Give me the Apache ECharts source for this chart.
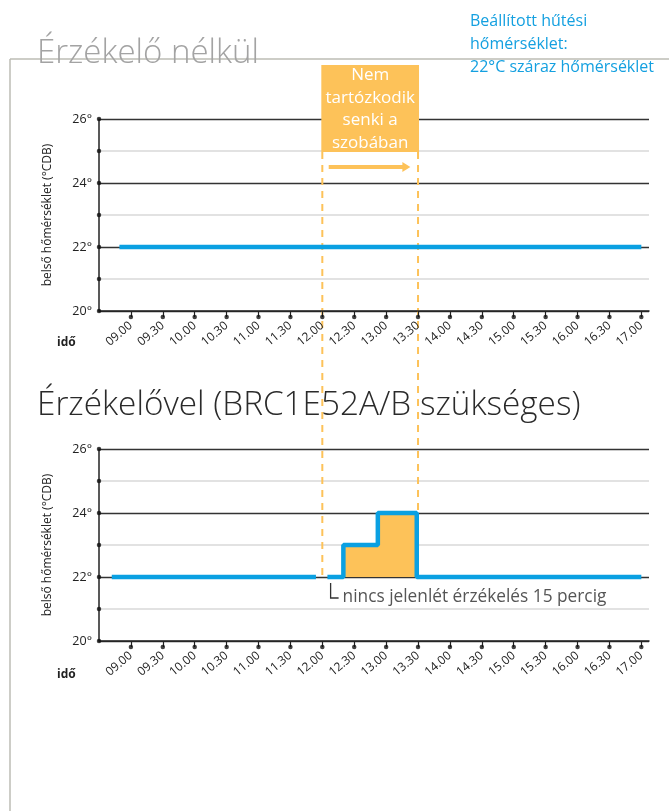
<!DOCTYPE html>
<html>
<head>
<meta charset="utf-8">
<script src="https://cdn.jsdelivr.net/npm/echarts@6/dist/echarts.min.js"></script>
<style>
  html, body { margin: 0; padding: 0; background: #fff; }
  #chart { width: 669px; height: 811px; }
</style>
</head>
<body>
<div id="chart"></div>
<script>
// idő tengely feliratai
const tickLabels = ['09.00', '09.30', '10.00', '10.30', '11.00', '11.30', '12.00', '12.30',
  '13.00', '13.30', '14.00', '14.30', '15.00', '15.30', '16.00', '16.30', '17.00'];
const yLevels = [20, 21, 22, 23, 24, 25, 26];
// érzékelő nélkül: végig 22°
const noSensorLine = [[8.82, 22], [17.0, 22]];
// érzékelővel
const sensorBefore = [[8.7, 22], [11.9, 22]];
const sensorStep = [[12.08, 22], [12.33, 23], [12.87, 24], [13.48, 22], [17.0, 22]];
const absenceSpan = [12.0, 13.5];
const noteAt = [12.13, 22];

const toHour = s => parseInt(s.slice(0, 2), 10) + parseInt(s.slice(3), 10) / 60;
const tickValues = tickLabels.map(toHour);
const labelMap = {};
tickLabels.forEach((l, i) => { labelMap[tickValues[i]] = l; });

const font = '"Open Sans", "Noto Sans", sans-serif';
const blue = '#0aa0e2';
const orange = '#fdc259';
const X_MIN = 8.5, X_MAX = 17.12;

const chart = echarts.init(document.getElementById('chart'));

function xAxisFor(gi) {
  return {
    type: 'value', gridIndex: gi, min: X_MIN, max: X_MAX,
    axisLine: { show: true, onZero: false, lineStyle: { color: '#222', width: 1.5 } },
    axisTick: { show: true, customValues: tickValues, length: 6, lineStyle: { color: '#222', width: 1.2 } },
    axisLabel: {
      customValues: tickValues, rotate: 40, margin: 13, fontSize: 12, color: '#222', fontFamily: font,
      formatter: v => labelMap[v] || ''
    },
    splitLine: { show: false }
  };
}
function yAxisFor(gi) {
  return {
    type: 'value', gridIndex: gi, min: 20, max: 26, interval: 2,
    name: 'belső hőmérséklet (°CDB)', nameLocation: 'middle', nameGap: 45, nameRotate: 90,
    nameTextStyle: { fontSize: 12, color: '#222', fontFamily: font },
    axisLine: { show: true, lineStyle: { color: '#222', width: 1.5 } },
    axisTick: { show: false },
    axisLabel: { fontSize: 12.5, color: '#222', fontFamily: font, margin: 7, formatter: v => v + '°' },
    splitLine: { show: true, lineStyle: { color: '#333', width: 1.3 } },
    minorTick: { show: false, splitNumber: 2 },
    minorSplitLine: { show: true, lineStyle: { color: '#e2e2e2', width: 2 } }
  };
}
function dots(gi) {
  return [
    {
      type: 'scatter', xAxisIndex: gi, yAxisIndex: gi, clip: false, silent: true,
      symbol: 'circle', symbolSize: 4.5, symbolOffset: [0, 6],
      itemStyle: { color: '#111' }, z: 5,
      data: tickValues.map(t => [t, 20])
    },
    {
      type: 'scatter', xAxisIndex: gi, yAxisIndex: gi, clip: false, silent: true,
      symbol: 'circle', symbolSize: 4.5,
      itemStyle: { color: '#111' }, z: 5,
      data: yLevels.map(v => [X_MIN, v])
    }
  ];
}
const lineStyle = { color: blue, width: 4.5, cap: 'butt' };

chart.setOption({
  animation: false,
  textStyle: { fontFamily: font },
  grid: [
    { left: 99, top: 119, width: 550, height: 192 },
    { left: 99, top: 449, width: 550, height: 192 }
  ],
  xAxis: [xAxisFor(0), xAxisFor(1)],
  yAxis: [yAxisFor(0), yAxisFor(1)],
  series: [
    {
      type: 'line', xAxisIndex: 0, yAxisIndex: 0, showSymbol: false, silent: true,
      lineStyle: lineStyle, z: 3, data: noSensorLine
    },
    {
      type: 'line', xAxisIndex: 1, yAxisIndex: 1, showSymbol: false, silent: true,
      lineStyle: lineStyle, z: 3, data: sensorBefore
    },
    {
      type: 'line', xAxisIndex: 1, yAxisIndex: 1, showSymbol: false, silent: true, step: 'end',
      lineStyle: lineStyle, areaStyle: { color: orange, opacity: 1, origin: 22 }, z: 3,
      data: sensorStep
    },
    ...dots(0), ...dots(1)
  ]
});

// feliratok, keret és kiemelés a tengelyekből számolt pozíciókra
const px0 = v => chart.convertToPixel({ gridIndex: 0 }, v);
const px1 = v => chart.convertToPixel({ gridIndex: 1 }, v);
const xa = px1([absenceSpan[0], 22])[0];
const xb = px1([absenceSpan[1], 22])[0];
const yBase = px1([absenceSpan[0], 22])[1];
const arrowA = px0([12.1, 24.5]);
const arrowB = px0([13.38, 24.5]);
const note = px1(noteAt);

chart.setOption({
  graphic: [
    { type: 'line', z: 0, shape: { x1: 10, y1: 59, x2: 669, y2: 59 }, style: { stroke: '#bdbdb5', lineWidth: 1.5 } },
    { type: 'line', z: 0, shape: { x1: 10, y1: 59, x2: 10, y2: 811 }, style: { stroke: '#bdbdb5', lineWidth: 1.5 } },
    { type: 'text', x: 37, y: 54, style: { text: 'Érzékelő nélkül', fill: '#a3a3a3', font: '300 33px ' + font, verticalAlign: 'middle' } },
    { type: 'text', x: 37, y: 406, style: { text: 'Érzékelővel (BRC1E52A/B szükséges)', fill: '#2a2a2a', font: '300 33.3px ' + font, verticalAlign: 'middle' } },
    { type: 'text', x: 470, y: 10, style: { text: 'Beállított hűtési\nhőmérséklet:\n22°C száraz hőmérséklet', fill: '#14a0e0', font: '16px ' + font, lineHeight: 23, verticalAlign: 'top' } },
    { type: 'rect', z: 1, shape: { x: xa - 1, y: 65, width: xb - xa + 2, height: 87 }, style: { fill: orange } },
    { type: 'text', z: 2, x: (xa + xb) / 2, y: 64, style: { text: 'Nem\ntartózkodik\nsenki a\nszobában', fill: '#fff', font: '17px ' + font, lineHeight: 22.5, align: 'center', verticalAlign: 'top' } },
    { type: 'line', z: 0, shape: { x1: xa, y1: 152, x2: xa, y2: yBase }, style: { stroke: orange, lineWidth: 2, lineDash: [7, 6] } },
    { type: 'line', z: 0, shape: { x1: xb, y1: 152, x2: xb, y2: yBase }, style: { stroke: orange, lineWidth: 2, lineDash: [7, 6] } },
    { type: 'line', z: 1, shape: { x1: arrowA[0], y1: arrowA[1], x2: arrowB[0] - 6, y2: arrowB[1] }, style: { stroke: orange, lineWidth: 4 } },
    { type: 'polygon', z: 1, shape: { points: [[arrowB[0] - 8, arrowB[1] - 5], [arrowB[0], arrowB[1]], [arrowB[0] - 8, arrowB[1] + 5]] }, style: { fill: orange } },
    { type: 'polyline', shape: { points: [[note[0], note[1] + 6], [note[0], note[1] + 21], [note[0] + 8, note[1] + 21]] }, style: { stroke: '#333', lineWidth: 1.3, fill: null } },
    { type: 'text', x: note[0] + 12, y: note[1] + 20, style: { text: 'nincs jelenlét érzékelés 15 percig', fill: '#555', font: '17.3px ' + font, verticalAlign: 'middle' } },
    { type: 'text', x: 57, y: 343, style: { text: 'idő', fill: '#222', font: 'bold 12px ' + font, verticalAlign: 'middle' } },
    { type: 'text', x: 57, y: 675, style: { text: 'idő', fill: '#222', font: 'bold 12px ' + font, verticalAlign: 'middle' } }
  ]
});
</script>
</body>
</html>
